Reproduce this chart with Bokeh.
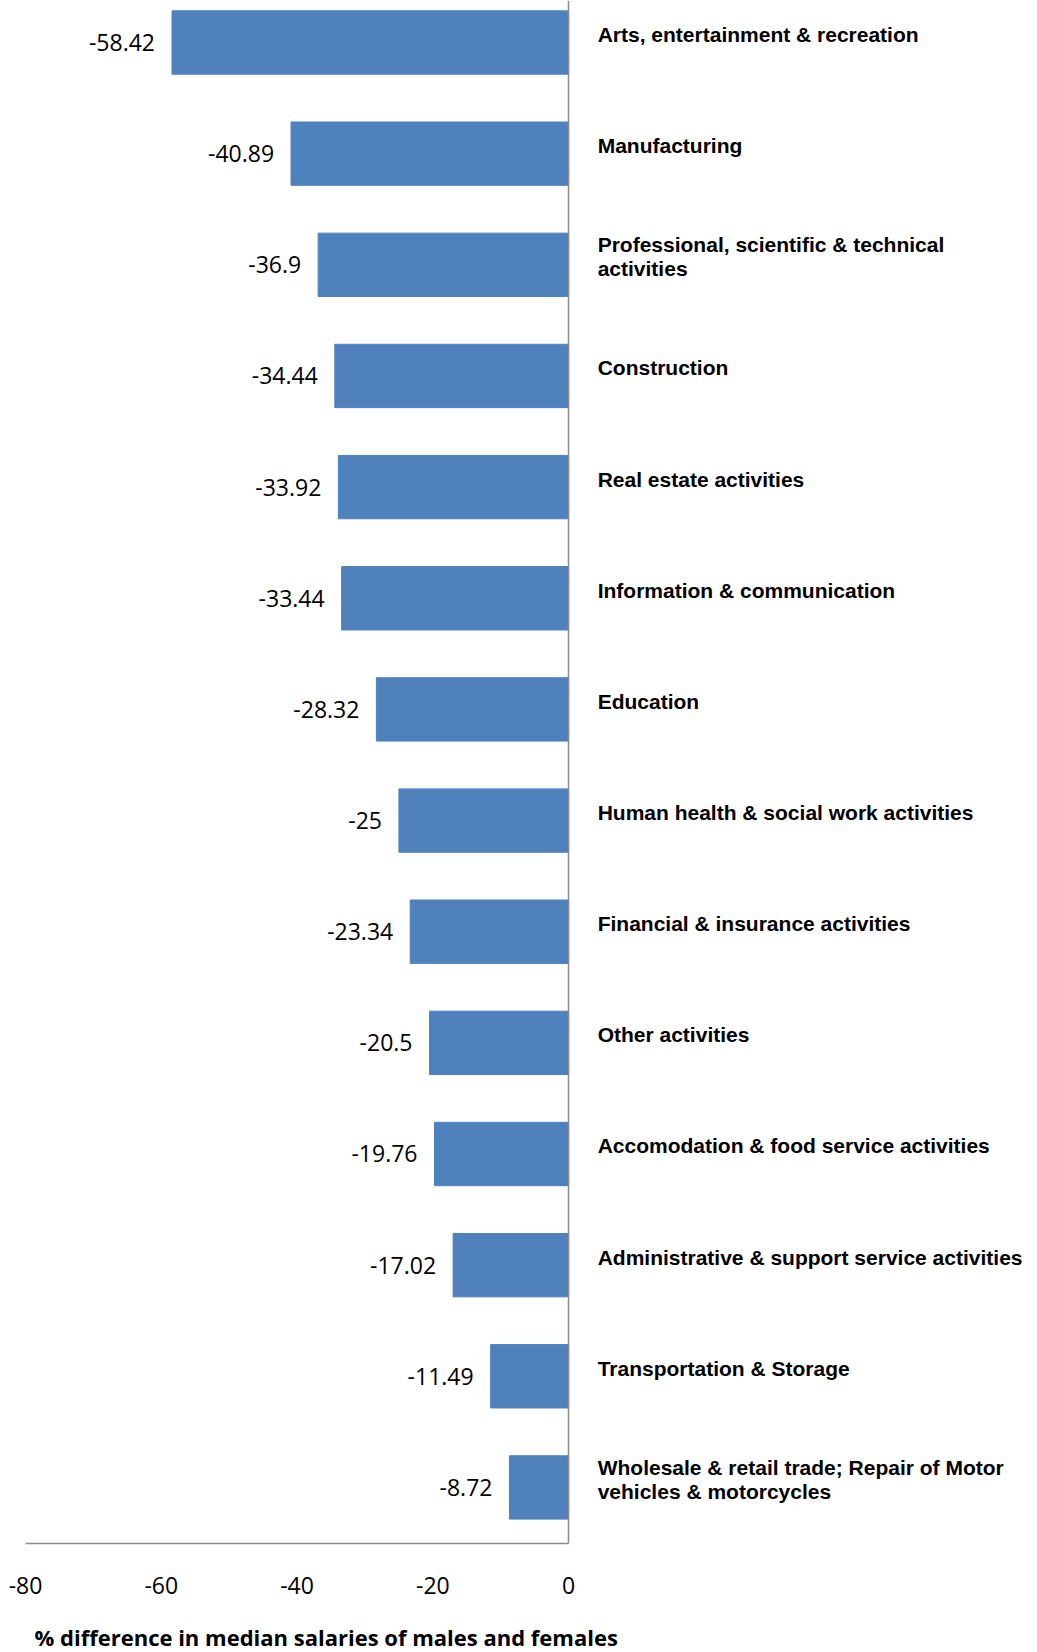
from bokeh.plotting import figure
from bokeh.models import (ColumnDataSource, Range1d, FixedTicker, LinearAxis, Label,
                          PrintfTickFormatter)
from bokeh.core.properties import value
from bokeh.embed import file_html
from bokeh.resources import INLINE

categories = [
    "Arts, entertainment & recreation",
    "Manufacturing",
    "Professional, scientific & technical\nactivities",
    "Construction",
    "Real estate activities",
    "Information & communication",
    "Education",
    "Human health & social work activities",
    "Financial & insurance activities",
    "Other activities",
    "Accomodation & food service activities",
    "Administrative & support service activities",
    "Transportation & Storage",
    "Wholesale & retail trade; Repair of Motor\nvehicles & motorcycles",
]
values = [-58.42, -40.89, -36.9, -34.44, -33.92, -33.44, -28.32, -25, -23.34,
          -20.5, -19.76, -17.02, -11.49, -8.72]
x_ticks = [-80, -60, -40, -20, 0]
x_title = "% difference in median salaries of males and females"

# layout (category units): top of frame, axis position, title row, bottom of frame
Y_TOP, Y_AXIS, Y_TITLE, Y_BOTTOM = -0.378, 13.504, 14.35, 14.485
# layout (value units): left and right edges of the frame
X_LEFT, X_RIGHT = -83.68, 67.87
X_MIN = -80

pos = list(range(len(categories)))
src = ColumnDataSource(dict(
    y=pos,
    val=values,
    zero=[0] * len(values),
    lab=[f"{v:g}" for v in values],
    cat=categories,
))

p = figure(width=1029, height=1652, output_backend="svg", toolbar_location=None,
           x_range=Range1d(X_LEFT, X_RIGHT), y_range=Range1d(Y_BOTTOM, Y_TOP),
           y_axis_location=None, min_border_left=0, min_border_right=0,
           min_border_top=0, min_border_bottom=0)
p.outline_line_color = None
p.xgrid.visible = False
p.ygrid.visible = False
p.background_fill_color = "white"
p.border_fill_color = "white"

p.hbar(y="y", left="val", right="zero", height=0.57, source=src,
       fill_color="#4F81BD", line_color="#4F81BD")

# vertical category axis line at x = 0
yax = LinearAxis(fixed_location=0, bounds=(Y_TOP, Y_AXIS), ticker=FixedTicker(ticks=[]),
                 axis_line_color="#8C8C8C", axis_line_width=1.5,
                 major_tick_line_color=None, minor_tick_line_color=None,
                 major_label_text_font_size="0px")
p.add_layout(yax, "left")

p.text(x="val", y="y", text="lab", source=src, x_offset=-17,
       text_align="right", text_baseline="middle",
       text_font=value("Open Sans"), text_font_size="23px", text_color="black")

p.text(x="zero", y="y", text="cat", source=src, x_offset=29, y_offset=-8,
       text_align="left", text_baseline="middle", text_line_height=1.05,
       text_font=value("Liberation Sans"), text_font_style="bold",
       text_font_size="21px", text_color="black")

ax = p.xaxis[0]
ax.fixed_location = Y_AXIS
ax.bounds = (X_MIN, 0)
ax.ticker = FixedTicker(ticks=x_ticks)
ax.formatter = PrintfTickFormatter(format="%d")
ax.major_tick_line_color = None
ax.minor_tick_line_color = None
ax.major_tick_out = 0
ax.major_tick_in = 0
ax.major_label_standoff = 34
ax.major_label_text_font = "Open Sans"
ax.major_label_text_font_size = "23px"
ax.major_label_text_color = "black"
ax.axis_line_color = "#8C8C8C"
ax.axis_line_width = 1.5

p.add_layout(Label(x=X_MIN, y=Y_TITLE, x_offset=9, text=x_title,
                   text_font="Open Sans", text_font_style="bold",
                   text_font_size="22px", text_baseline="middle",
                   text_color="black"))

open("out.html", "w").write(file_html(p, INLINE))
